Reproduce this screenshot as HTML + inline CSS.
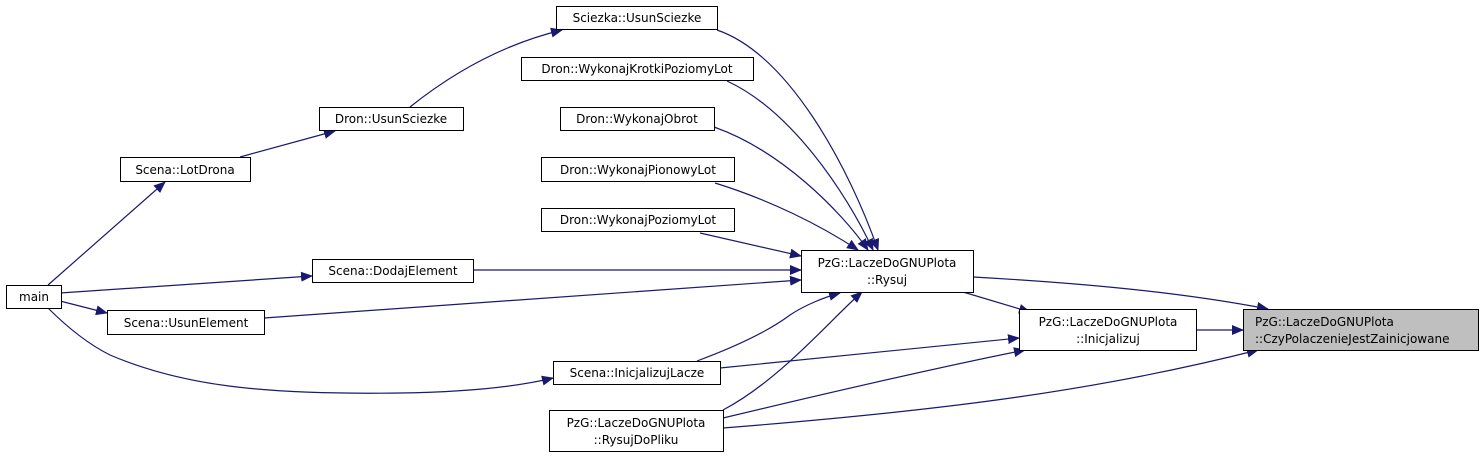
<!DOCTYPE html>
<html><head><meta charset="utf-8"><style>
html,body{margin:0;padding:0;background:#fff;}
svg{display:block}
text{font-family:"DejaVu Sans","Liberation Sans",sans-serif;font-size:12px;fill:#000}
</style></head><body>
<svg width="1484" height="458" viewBox="0 0 1484 458" xmlns="http://www.w3.org/2000/svg">
<defs><marker id="a" markerWidth="12" markerHeight="10" refX="11" refY="5" orient="auto" markerUnits="userSpaceOnUse"><path d="M0,0 L12,5 L0,10 z" fill="#191970"/></marker></defs>
<g fill="none" stroke="#191970" stroke-width="1.2" marker-end="url(#a)">
<path d="M48,285 L165,182"/>
<path d="M240,157 L335,131"/>
<path d="M410,107 C450,75 500,45 562,30"/>
<path d="M717,30 C790,55 850,170 878,250"/>
<path d="M727,81 C790,110 845,190 873,250"/>
<path d="M714,127 C780,150 840,210 868,250"/>
<path d="M715,183 C770,200 820,225 858,250"/>
<path d="M700,233 L801,256"/>
<path d="M473,270 L801,270"/>
<path d="M60,293 L312,276"/>
<path d="M60,301 L107,313"/>
<path d="M264,318 L801,280"/>
<path d="M48,308 C70,330 90,345 110,355 C180,385 260,395 400,393 C470,392 520,386 553,378"/>
<path d="M697,361 C740,345 770,330 790,315 C805,305 825,297 840,293"/>
<path d="M720,368 L1019,338"/>
<path d="M723,410 C780,380 830,320 862,292"/>
<path d="M723,418 C840,390 950,365 1025,350"/>
<path d="M723,428 C950,410 1100,390 1258,350"/>
<path d="M973,277 C1080,283 1180,292 1268,309"/>
<path d="M963,292 L1030,312"/>
<path d="M1196,330 L1243,330"/>
</g>
<g stroke="#000" stroke-width="1" fill="#fff">
<rect x="6.5" y="285.5" width="55" height="23"/>
<rect x="120.5" y="157.5" width="130" height="24"/>
<rect x="319.5" y="107.5" width="144" height="23"/>
<rect x="556.5" y="6.5" width="161" height="23"/>
<rect x="521.5" y="57.5" width="232" height="23"/>
<rect x="560.5" y="107.5" width="154" height="23"/>
<rect x="541.5" y="157.5" width="193" height="24"/>
<rect x="541.5" y="208.5" width="193" height="23"/>
<rect x="312.5" y="259.5" width="161" height="23"/>
<rect x="107.5" y="310.5" width="157" height="24"/>
<rect x="801.5" y="250.5" width="172" height="42"/>
<rect x="1019.5" y="309.5" width="177" height="41"/>
<rect x="1243.5" y="309.5" width="235" height="41" fill="#bfbfbf"/>
<rect x="553.5" y="361.5" width="167" height="23"/>
<rect x="549.5" y="410.5" width="174" height="41"/>
</g>
<g text-anchor="middle">
<text x="34" y="301">main</text>
<text x="185" y="174">Scena::LotDrona</text>
<text x="391" y="123">Dron::UsunSciezke</text>
<text x="637" y="22">Sciezka::UsunSciezke</text>
<text x="637" y="73">Dron::WykonajKrotkiPoziomyLot</text>
<text x="637" y="123">Dron::WykonajObrot</text>
<text x="638" y="174">Dron::WykonajPionowyLot</text>
<text x="638" y="224">Dron::WykonajPoziomyLot</text>
<text x="393" y="275">Scena::DodajElement</text>
<text x="186" y="327">Scena::UsunElement</text>
<text x="887" y="267">PzG::LaczeDoGNUPlota</text>
<text x="887" y="284">::Rysuj</text>
<text x="1108" y="326">PzG::LaczeDoGNUPlota</text>
<text x="1108" y="343">::Inicjalizuj</text>
<text x="637" y="377">Scena::InicjalizujLacze</text>
<text x="636" y="427">PzG::LaczeDoGNUPlota</text>
<text x="636" y="444">::RysujDoPliku</text>
</g>
<text x="1255" y="326">PzG::LaczeDoGNUPlota</text>
<text x="1255" y="343">::CzyPolaczenieJestZainicjowane</text>
</svg>
</body></html>
